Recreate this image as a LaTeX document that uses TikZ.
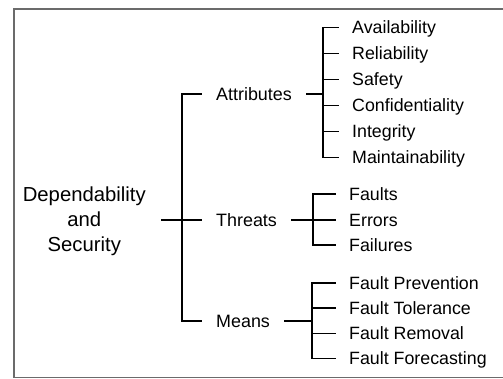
\documentclass[tikz,border=0pt]{standalone}
\usepackage{fontspec}
\setmainfont{Liberation Sans}
\begin{document}
\begin{tikzpicture}[x=1pt,y=-1pt,
  conn/.style={line width=1.8pt,line cap=rect,line join=miter},
  frame/.style={draw=black!58,line width=1.5pt},
  leaf/.style={anchor=west,inner xsep=14pt,inner ysep=0pt,text height=12.7pt,text depth=0pt,
    font=\fontsize{17.8}{20}\selectfont},
  mid/.style={anchor=west,inner xsep=15pt,inner ysep=0pt,text height=12.7pt,text depth=0pt,
    font=\fontsize{17.9}{20}\selectfont},
  root/.style={align=center,inner xsep=16pt,inner ysep=0pt,font=\fontsize{20.3}{25}\selectfont}]
\useasboundingbox (0,0) rectangle (503,379);
\draw[frame] (504,9) -- (14,9) -- (14,377.7) -- (504,377.7);

% root
\node[root,anchor=east] (dep) at (162,221.5) {Dependability\\and\\Security};

% middle level
\node[mid] (att) at (201,94) {Attributes};
\node[mid] (thr) at (201,220) {Threats};
\node[mid] (mea) at (201,321) {Means};

% attributes leaves
\node[leaf] (av) at (338,27.5) {Availability};
\node[leaf] (re) at (338,53.5) {Reliability};
\node[leaf] (sa) at (338,79.5) {Safety};
\node[leaf] (co) at (338,105.5) {Confidentiality};
\node[leaf] (in) at (338,131.5) {Integrity};
\node[leaf] (ma) at (338,157.5) {Maintainability};

% threats leaves
\node[leaf] (fa) at (335,194) {Faults};
\node[leaf] (er) at (335,220) {Errors};
\node[leaf] (fl) at (335,245) {Failures};

% means leaves
\node[leaf] (fp) at (335,283) {Fault Prevention};
\node[leaf] (ft) at (335,308) {Fault Tolerance};
\node[leaf] (fr) at (335,333.5) {Fault Removal};
\node[leaf] (ff) at (335,358.5) {Fault Forecasting};

% junction coordinates
\coordinate (mb) at (182,220);
\coordinate (ab) at (323,94);
\coordinate (tb) at (313,220);
\coordinate (nb) at (312,321);

% main bracket
\draw[conn] (att.west) -- (mb |- att.west) -- (mb |- mea.west) -- (mea.west);
\draw[conn] (dep.east |- thr.west) -- (thr.west);

% attributes bracket
\draw[conn] (att.east) -- (ab);
\draw[conn] (av.west) -- (ab |- av.west) -- (ab |- ma.west) -- (ma.west);
\foreach \n in {re,sa,co,in} \draw[conn] (ab |- \n.west) -- (\n.west);

% threats bracket
\draw[conn] (thr.east) -- (er.west);
\draw[conn] (fa.west) -- (tb |- fa.west) -- (tb |- fl.west) -- (fl.west);

% means bracket
\draw[conn] (mea.east) -- (nb);
\draw[conn] (fp.west) -- (nb |- fp.west) -- (nb |- ff.west) -- (ff.west);
\foreach \n in {ft,fr} \draw[conn] (nb |- \n.west) -- (\n.west);
\end{tikzpicture}
\end{document}
